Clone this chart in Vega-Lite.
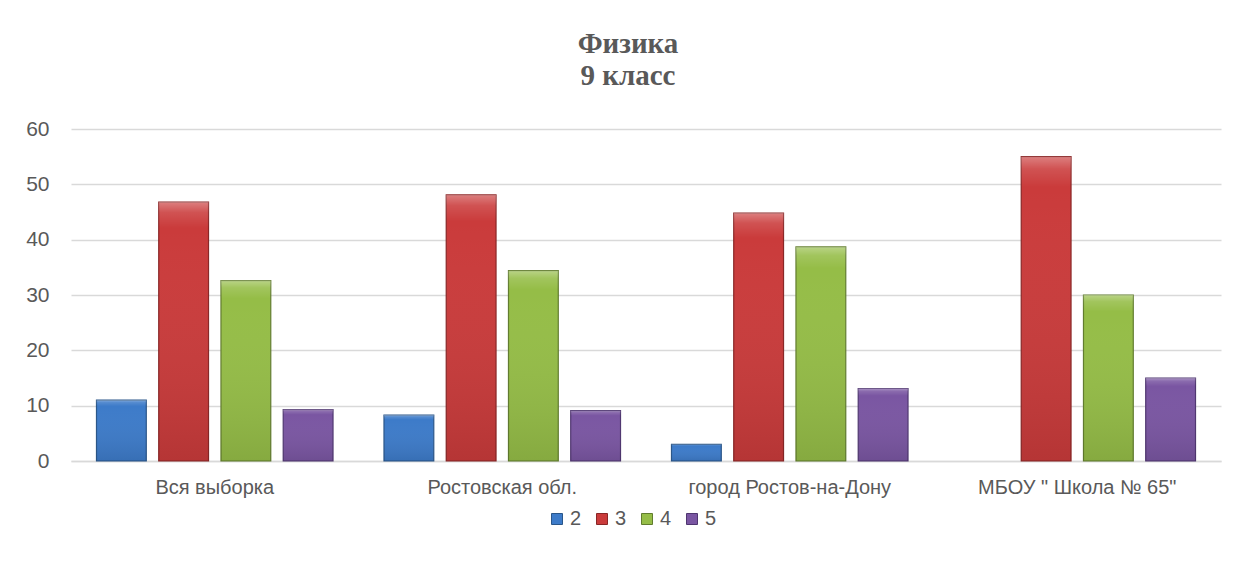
{
  "$schema": "https://vega.github.io/schema/vega-lite/v6.json",
  "autosize": {"type": "none"},
  "padding": {"left": 71, "top": 129, "right": 29, "bottom": 119},
  "width": 1150,
  "height": 332,
  "background": "white",
  "title": {
    "text": ["Физика", "9 класс"],
    "font": "Liberation Serif",
    "fontSize": 29,
    "fontWeight": "bold",
    "color": "#595959",
    "anchor": "middle",
    "frame": "group",
    "dx": -18,
    "offset": 27,
    "lineHeight": 32
  },
  "data": {
    "values": [
      {"group": "Вся выборка", "grade": "2", "value": 11.0},
      {"group": "Вся выборка", "grade": "3", "value": 46.8},
      {"group": "Вся выборка", "grade": "4", "value": 32.6},
      {"group": "Вся выборка", "grade": "5", "value": 9.3},
      {"group": "Ростовская обл.", "grade": "2", "value": 8.3},
      {"group": "Ростовская обл.", "grade": "3", "value": 48.1},
      {"group": "Ростовская обл.", "grade": "4", "value": 34.4},
      {"group": "Ростовская обл.", "grade": "5", "value": 9.1},
      {"group": "город Ростов-на-Дону", "grade": "2", "value": 3.0},
      {"group": "город Ростов-на-Дону", "grade": "3", "value": 44.8},
      {"group": "город Ростов-на-Дону", "grade": "4", "value": 38.7},
      {"group": "город Ростов-на-Дону", "grade": "5", "value": 13.1},
      {"group": "МБОУ \" Школа № 65\"", "grade": "2", "value": null},
      {"group": "МБОУ \" Школа № 65\"", "grade": "3", "value": 55.0},
      {"group": "МБОУ \" Школа № 65\"", "grade": "4", "value": 30.0},
      {"group": "МБОУ \" Школа № 65\"", "grade": "5", "value": 15.0}
    ]
  },
  "encoding": {
    "x": {
      "field": "group",
      "type": "nominal",
      "sort": null,
      "title": null,
      "scale": {"paddingInner": 0.134, "paddingOuter": 0.067},
      "axis": {
        "labelAngle": 0,
        "labelFont": "Liberation Sans",
        "labelFontSize": 20,
        "labelLimit": 0,
        "labelColor": "#595959",
        "labelPadding": 16,
        "ticks": false,
        "tickSize": 0,
        "domainColor": "#d9d9d9",
        "domainWidth": 1.5,
        "grid": false
      }
    },
    "xOffset": {
      "field": "grade",
      "type": "nominal",
      "scale": {"domain": ["2", "3", "4", "5"], "paddingInner": 0.2, "paddingOuter": 0.1}
    },
    "y": {
      "field": "value",
      "type": "quantitative",
      "title": null,
      "scale": {"domain": [0, 60], "nice": false},
      "axis": {
        "values": [0, 10, 20, 30, 40, 50, 60],
        "labelFont": "Liberation Sans",
        "labelFontSize": 21,
        "labelColor": "#595959",
        "labelPadding": 22,
        "ticks": false,
        "tickSize": 0,
        "domain": false,
        "gridColor": "#d9d9d9",
        "gridWidth": 1.5
      }
    }
  },
  "layer": [
    {
      "mark": {"type": "bar", "strokeWidth": 1.2},
      "encoding": {
        "color": {
          "field": "grade",
          "type": "nominal",
          "title": null,
          "scale": {"domain": ["2", "3", "4", "5"], "range": ["#3d7bc9", "#ca3b3b", "#95bd47", "#7a56a2"]},
          "legend": {
            "orient": "none",
            "direction": "horizontal",
            "legendX": 476,
            "legendY": 380,
            "symbolType": "square",
            "symbolSize": 121,
            "symbolStrokeWidth": 1,
            "labelFont": "Liberation Sans",
            "labelFontSize": 20,
            "labelColor": "#595959",
            "labelOffset": 3,
            "columnPadding": 10
          }
        },
        "stroke": {
          "field": "grade",
          "type": "nominal",
          "title": null,
          "scale": {"domain": ["2", "3", "4", "5"], "range": ["#2a5689", "#892626", "#617c2e", "#4f3670"]}
        }
      }
    },
    {
      "mark": {
        "type": "bar",
        "strokeWidth": 0,
        "color": {
          "gradient": "linear",
          "x1": 0, "y1": 0, "x2": 0, "y2": 1,
          "stops": [
            {"offset": 0, "color": "rgba(255,255,255,0.35)"},
            {"offset": 0.04, "color": "rgba(255,255,255,0.12)"},
            {"offset": 0.1, "color": "rgba(255,255,255,0)"},
            {"offset": 1, "color": "rgba(0,0,0,0.1)"}
          ]
        }
      }
    }
  ],
  "config": {
    "view": {"stroke": null}
  }
}
